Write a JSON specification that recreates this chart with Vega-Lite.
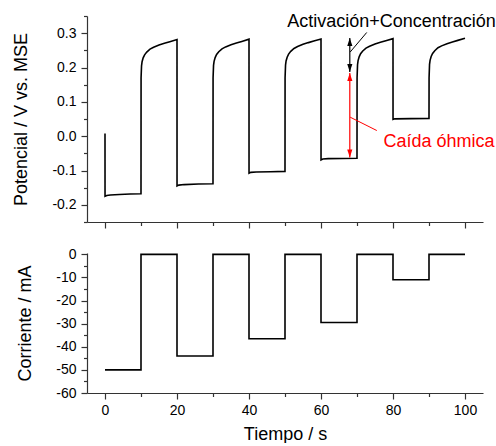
{
  "$schema": "https://vega.github.io/schema/vega-lite/v6.json",
  "padding": {"left": 12, "top": 9, "right": 0, "bottom": 0},
  "background": "white",
  "config": {
    "view": {"stroke": null},
    "font": "Liberation Sans",
    "axis": {
      "domainColor": "#333333", "domainWidth": 1.2,
      "tickColor": "#333333", "tickWidth": 1.2,
      "labelColor": "#000000", "labelFontSize": 14, "labelFont": "Liberation Sans",
      "titleFont": "Liberation Sans", "titleFontSize": 18, "titleFontWeight": "normal", "titleColor": "#000000",
      "grid": false, "labelFlush": false, "labelOverlap": false
    }
  },
  "datasets": {
    "potential": [
      {"t": 0, "v": 0.008}, {"t": 0.01, "v": -0.175}, {"t": 0.5, "v": -0.173}, {"t": 1.5, "v": -0.1715}, {"t": 4, "v": -0.170}, {"t": 7, "v": -0.1685}, {"t": 10, "v": -0.1675},
      {"t": 10.02, "v": 0.17}, {"t": 10.15, "v": 0.205}, {"t": 10.3, "v": 0.217}, {"t": 10.6, "v": 0.228}, {"t": 11, "v": 0.237}, {"t": 11.6, "v": 0.245}, {"t": 12.5, "v": 0.2535}, {"t": 13.5, "v": 0.259}, {"t": 15, "v": 0.2655}, {"t": 16.5, "v": 0.2705}, {"t": 18, "v": 0.275}, {"t": 20, "v": 0.2815},
      {"t": 20.01, "v": -0.145}, {"t": 20.5, "v": -0.1425}, {"t": 22, "v": -0.141}, {"t": 26, "v": -0.1395}, {"t": 30, "v": -0.1385},
      {"t": 30.02, "v": 0.17}, {"t": 30.15, "v": 0.206}, {"t": 30.3, "v": 0.218}, {"t": 30.6, "v": 0.229}, {"t": 31, "v": 0.238}, {"t": 31.6, "v": 0.246}, {"t": 32.5, "v": 0.2545}, {"t": 33.5, "v": 0.26}, {"t": 35, "v": 0.2665}, {"t": 36.5, "v": 0.2715}, {"t": 38, "v": 0.276}, {"t": 40, "v": 0.2825},
      {"t": 40.01, "v": -0.108}, {"t": 40.5, "v": -0.1055}, {"t": 42, "v": -0.1045}, {"t": 46, "v": -0.1035}, {"t": 50, "v": -0.1025},
      {"t": 50.02, "v": 0.17}, {"t": 50.15, "v": 0.207}, {"t": 50.3, "v": 0.219}, {"t": 50.6, "v": 0.23}, {"t": 51, "v": 0.239}, {"t": 51.6, "v": 0.247}, {"t": 52.5, "v": 0.2555}, {"t": 53.5, "v": 0.261}, {"t": 55, "v": 0.2675}, {"t": 56.5, "v": 0.2725}, {"t": 58, "v": 0.277}, {"t": 60, "v": 0.283},
      {"t": 60.01, "v": -0.069}, {"t": 60.5, "v": -0.0665}, {"t": 62, "v": -0.0655}, {"t": 66, "v": -0.065}, {"t": 70, "v": -0.0645},
      {"t": 70.02, "v": 0.17}, {"t": 70.15, "v": 0.208}, {"t": 70.3, "v": 0.22}, {"t": 70.6, "v": 0.231}, {"t": 71, "v": 0.24}, {"t": 71.6, "v": 0.248}, {"t": 72.5, "v": 0.2565}, {"t": 73.5, "v": 0.262}, {"t": 75, "v": 0.2685}, {"t": 76.5, "v": 0.2735}, {"t": 78, "v": 0.278}, {"t": 80, "v": 0.284},
      {"t": 80.01, "v": 0.049}, {"t": 80.5, "v": 0.0505}, {"t": 85, "v": 0.051}, {"t": 90, "v": 0.0515},
      {"t": 90.02, "v": 0.17}, {"t": 90.15, "v": 0.209}, {"t": 90.3, "v": 0.221}, {"t": 90.6, "v": 0.232}, {"t": 91, "v": 0.241}, {"t": 91.6, "v": 0.249}, {"t": 92.5, "v": 0.2575}, {"t": 93.5, "v": 0.263}, {"t": 95, "v": 0.2695}, {"t": 96.5, "v": 0.2745}, {"t": 98, "v": 0.279}, {"t": 100, "v": 0.285}
    ],
    "current": [
      {"t": 0, "i": -50}, {"t": 10, "i": 0}, {"t": 20, "i": -44}, {"t": 30, "i": 0}, {"t": 40, "i": -36.5}, {"t": 50, "i": 0}, {"t": 60, "i": -29.5}, {"t": 70, "i": 0}, {"t": 80, "i": -11}, {"t": 90, "i": 0}, {"t": 100, "i": 0}
    ],
    "blackArrow": [{"t": 68, "v": 0.187, "v2": 0.286}],
    "blackHeads": [{"t": 68, "v": 0.286, "dir": "up"}, {"t": 68, "v": 0.187, "dir": "down"}],
    "redArrow": [{"t": 68, "v": -0.062, "v2": 0.184}],
    "redHeads": [{"t": 68, "v": 0.184, "dir": "up"}, {"t": 68, "v": -0.062, "dir": "down"}],
    "blackLeader": [{"t": 68.1, "v": 0.245, "t2": 72.7, "v2": 0.302}],
    "redLeader": [{"t": 68.1, "v": 0.0553, "t2": 75.5, "v2": 0.0164}],
    "blackText": [{"t": 79.6, "v": 0.3178, "label": "Activación+Concentración"}],
    "redText": [{"t": 92.8, "v": -0.032, "label": "Caída óhmica"}]
  },
  "bounds": "flush",
  "spacing": 31,
  "vconcat": [
    {
      "width": 396,
      "height": 206,
      "encoding": {
        "x": {"field": "t", "type": "quantitative",
          "scale": {"domain": [-5, 105], "nice": false, "zero": false},
          "axis": {"title": null, "labels": false,
            "values": [0, 10, 20, 30, 40, 50, 60, 70, 80, 90, 100],
            "tickSize": {"condition": {"test": "datum.value % 20 == 0", "value": 6}, "value": 3.5}}},
        "y": {"field": "v", "type": "quantitative",
          "scale": {"domain": [-0.25, 0.35], "nice": false, "zero": false},
          "axis": {"title": "Potencial / V vs. MSE", "titlePadding": 21, "labelPadding": 5, "titleFontWeight": "normal",
            "values": [-0.25, -0.2, -0.15, -0.1, -0.05, 0, 0.05, 0.1, 0.15, 0.2, 0.25, 0.3, 0.35],
            "labelExpr": "abs(datum.value*10 - round(datum.value*10)) < 0.001 ? (datum.value < -0.001 ? '-' : '') + format(abs(datum.value), '.1f') : ''",
            "tickSize": {"condition": {"test": "abs(datum.value*10 - round(datum.value*10)) < 0.001", "value": 6}, "value": 3.5}}}
      },
      "layer": [
        {
          "data": {"name": "potential"},
          "mark": {"type": "line", "color": "#000000", "strokeWidth": 1.6}
        },
        {
          "data": {"name": "blackArrow"},
          "mark": {"type": "rule", "color": "#000000", "strokeWidth": 1.2},
          "encoding": {"y2": {"field": "v2"}}
        },
        {
          "data": {"name": "blackHeads"},
          "mark": {"type": "point", "filled": true, "color": "#000000", "size": 256, "opacity": 1},
          "encoding": {
            "shape": {"field": "dir", "type": "nominal", "legend": null,
              "scale": {"domain": ["up", "down"], "range": ["M0,0L-0.32,1L0.32,1Z", "M0,0L-0.32,-1L0.32,-1Z"]}}
          }
        },
        {
          "data": {"name": "redArrow"},
          "mark": {"type": "rule", "color": "#ff0000", "strokeWidth": 1.2},
          "encoding": {"y2": {"field": "v2"}}
        },
        {
          "data": {"name": "redHeads"},
          "mark": {"type": "point", "filled": true, "color": "#ff0000", "size": 256, "opacity": 1},
          "encoding": {
            "shape": {"field": "dir", "type": "nominal", "legend": null,
              "scale": {"domain": ["up", "down"], "range": ["M0,0L-0.32,1L0.32,1Z", "M0,0L-0.32,-1L0.32,-1Z"]}}
          }
        },
        {
          "data": {"name": "blackLeader"},
          "mark": {"type": "rule", "color": "#000000", "strokeWidth": 1},
          "encoding": {"x2": {"field": "t2"}, "y2": {"field": "v2"}}
        },
        {
          "data": {"name": "redLeader"},
          "mark": {"type": "rule", "color": "#ff0000", "strokeWidth": 1},
          "encoding": {"x2": {"field": "t2"}, "y2": {"field": "v2"}}
        },
        {
          "data": {"name": "blackText"},
          "mark": {"type": "text", "color": "#000000", "fontSize": 18, "font": "Liberation Sans", "align": "center", "baseline": "alphabetic"},
          "encoding": {"text": {"field": "label"}}
        },
        {
          "data": {"name": "redText"},
          "mark": {"type": "text", "color": "#ff0000", "fontSize": 18, "font": "Liberation Sans", "align": "center", "baseline": "alphabetic"},
          "encoding": {"text": {"field": "label"}}
        }
      ]
    },
    {
      "width": 396,
      "height": 140,
      "data": {"name": "current"},
      "mark": {"type": "line", "color": "#000000", "strokeWidth": 1.6, "interpolate": "step-after"},
      "encoding": {
        "x": {"field": "t", "type": "quantitative",
          "scale": {"domain": [-5, 105], "nice": false, "zero": false},
          "axis": {"title": "Tiempo / s", "titlePadding": 8, "labelPadding": 4, "titleFontWeight": "normal",
            "values": [0, 10, 20, 30, 40, 50, 60, 70, 80, 90, 100],
            "labelExpr": "datum.value % 20 == 0 ? format(datum.value, 'd') : ''",
            "tickSize": {"condition": {"test": "datum.value % 20 == 0", "value": 6}, "value": 3.5}}},
        "y": {"field": "i", "type": "quantitative",
          "scale": {"domain": [-60, 0.6], "nice": false, "zero": false},
          "axis": {"title": "Corriente / mA", "titlePadding": 21, "labelPadding": 5, "titleFontWeight": "normal",
            "values": [-60, -55, -50, -45, -40, -35, -30, -25, -20, -15, -10, -5, 0],
            "labelExpr": "datum.value % 10 == 0 ? (datum.value < 0 ? '-' : '') + format(abs(datum.value), 'd') : ''",
            "tickSize": {"condition": {"test": "datum.value % 10 == 0", "value": 6}, "value": 3.5}}}
      }
    }
  ]
}
